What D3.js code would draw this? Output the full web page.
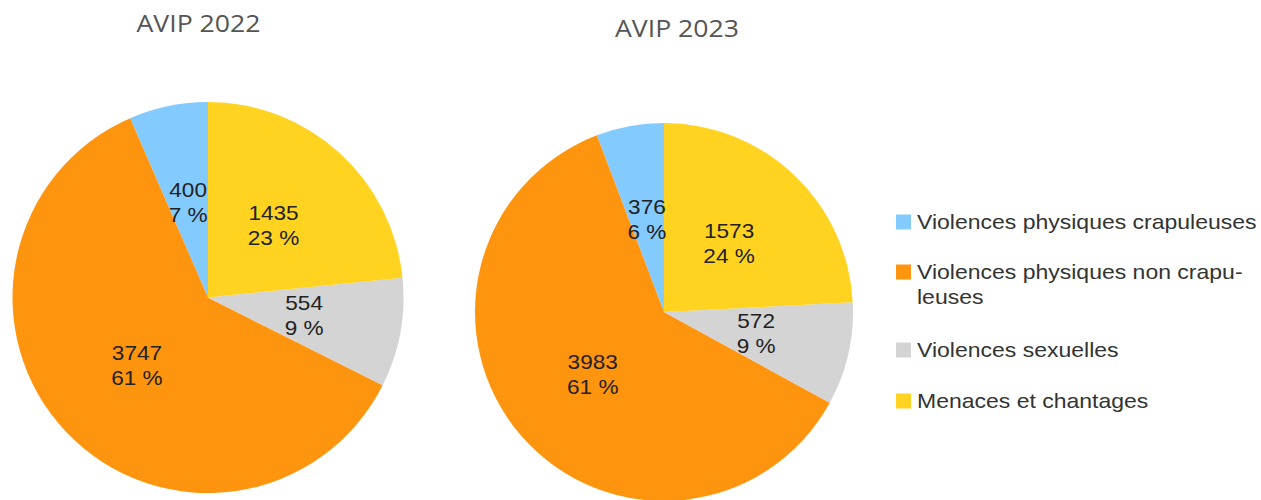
<!DOCTYPE html>
<html><head><meta charset="utf-8">
<script src="https://cdn.jsdelivr.net/npm/d3@7"></script>
<style>html,body{margin:0;padding:0;background:#fff;}svg{display:block;}</style>
</head><body>
<svg id="c" width="1261" height="500"></svg>
<script>
const categories = ["Violences physiques crapuleuses", "Violences physiques non crapuleuses", "Violences sexuelles", "Menaces et chantages"];
const legendLines = [["Violences physiques crapuleuses"], ["Violences physiques non crapu-", "leuses"], ["Violences sexuelles"], ["Menaces et chantages"]];
const colors = ["#83caff", "#ff950e", "#d4d4d4", "#ffd320"];
const titles = ["AVIP 2022", "AVIP 2023"];
const values2022 = [400, 3747, 554, 1435];
const values2023 = [376, 3983, 572, 1573];

const svg = d3.select("#c");
const color = d3.scaleOrdinal().domain(categories).range(colors);

const pies = [
  {title: titles[0], values: values2022, cx: 208, cy: 297.5, r: 195.5, tx: 198.5, ty: 32},
  {title: titles[1], values: values2023, cx: 664, cy: 312, r: 189, tx: 677, ty: 37}
];

const pie = d3.pie().sort(null).startAngle(0).endAngle(-2 * Math.PI);

pies.forEach(p => {
  const data = categories.map((c, i) => ({cat: c, v: p.values[i]}));
  const total = d3.sum(p.values);
  const arcs = pie.value(d => d.v)(data);
  const arc = d3.arc().innerRadius(0).outerRadius(p.r);
  const g = svg.append("g").attr("transform", `translate(${p.cx},${p.cy})`);
  g.selectAll("path").data(arcs).join("path")
    .attr("d", arc).attr("fill", d => color(d.data.cat));
  const lab = g.selectAll("text").data(arcs).join("text")
    .attr("transform", d => `translate(${arc.centroid(d)}) scale(1.13,1)`)
    .attr("text-anchor", "middle")
    .style("font-family", "'Liberation Sans', Arial, sans-serif")
    .style("font-size", "20px")
    .attr("fill", "#222");
  lab.append("tspan").attr("x", 0).attr("y", -5).text(d => d.data.v);
  lab.append("tspan").attr("x", 0).attr("y", 20).text(d => Math.round(d.data.v / total * 100) + " %");
  svg.append("text").attr("transform", `translate(${p.tx},${p.ty}) scale(1.11,1)`).attr("text-anchor", "middle")
    .style("font-family", "'Open Sans', sans-serif").style("font-size", "24px")
    .attr("fill", "#555").text(p.title);
});

const legY = [222, 272, 350, 401];
const lg = svg.append("g");
categories.forEach((c, i) => {
  lg.append("rect").attr("x", 896).attr("y", legY[i] - 7.5).attr("width", 15).attr("height", 15).attr("fill", color(c));
  const t = lg.append("text").attr("transform", `translate(917,0) scale(1.15,1)`)
    .style("font-family", "'Liberation Sans', Arial, sans-serif").style("font-size", "20px").attr("fill", "#333");
  legendLines[i].forEach((line, j) => {
    t.append("tspan").attr("x", 0).attr("y", legY[i] + 7 + j * 25).text(line);
  });
});
</script>
</body></html>
